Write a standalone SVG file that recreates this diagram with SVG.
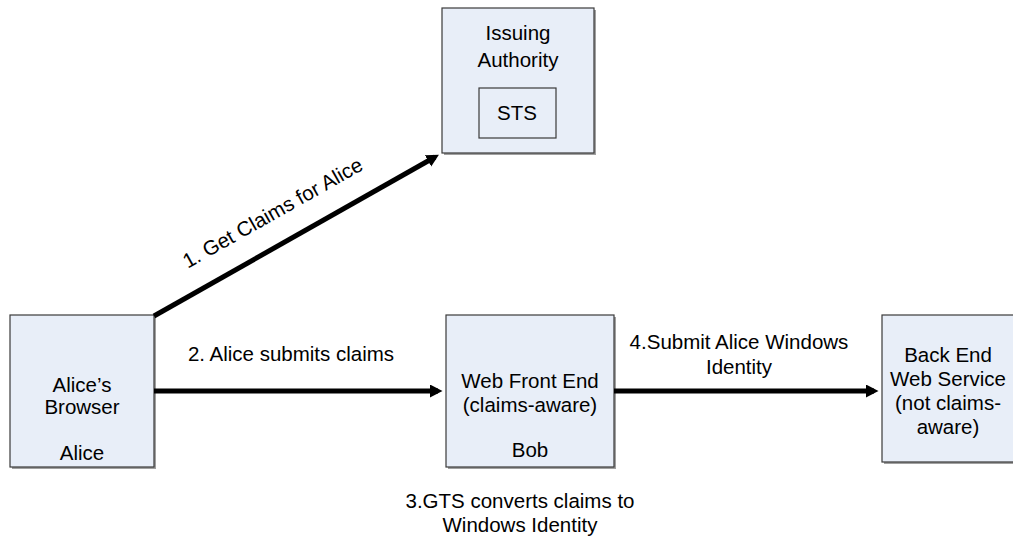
<svg xmlns="http://www.w3.org/2000/svg" width="1013" height="540" viewBox="0 0 1013 540">
<style>
.box{fill:#E8EEF8;stroke:#3a3a3a;stroke-width:1.2}
.shadow{fill:#a0a0a0}
text{font-family:"Liberation Sans",Arial,sans-serif;font-size:20.5px;fill:#000;text-anchor:middle}
.conn{stroke:#000;stroke-width:5;fill:none}
</style>
<defs>
<marker id="arr" markerWidth="3" markerHeight="3" refX="1.6" refY="1.3" orient="auto" markerUnits="strokeWidth">
<path d="M0,0 L2.5,1.3 L0,2.6 Z" fill="#000"/>
</marker>
</defs>
<rect width="1013" height="540" fill="#fff"/>
<g id="issuing">
<rect class="shadow" x="444" y="10" width="152" height="145"/>
<rect class="box" x="442" y="8" width="152" height="145"/>
<text x="518" y="40">Issuing</text>
<text x="518" y="67">Authority</text>
</g>
<g id="sts">
<rect class="box" x="479" y="88" width="77" height="50"/>
<text x="517" y="120">STS</text>
</g>
<g id="browser">
<rect class="shadow" x="12" y="317" width="144" height="152"/>
<rect class="box" x="10" y="315" width="144" height="152"/>
<text x="82" y="392">Alice’s</text>
<text x="82" y="414">Browser</text>
<text x="82" y="460">Alice</text>
</g>
<g id="webfront">
<rect class="shadow" x="448" y="317" width="168" height="152"/>
<rect class="box" x="446" y="315" width="168" height="152"/>
<text x="530" y="388">Web Front End</text>
<text x="530" y="412">(claims-aware)</text>
<text x="530" y="457">Bob</text>
</g>
<g id="backend">
<rect class="shadow" x="884" y="317" width="140" height="147"/>
<rect class="box" x="882" y="315" width="140" height="147"/>
<text x="948" y="362">Back End</text>
<text x="948" y="386">Web Service</text>
<text x="948" y="410">(not claims-</text>
<text x="948" y="434">aware)</text>
</g>
<g id="connectors">
<line class="conn" x1="154" y1="316" x2="435" y2="157" marker-end="url(#arr)"/>
<line class="conn" x1="154" y1="391" x2="438" y2="391" marker-end="url(#arr)"/>
<line class="conn" x1="614" y1="391" x2="874" y2="391" marker-end="url(#arr)"/>
</g>
<g id="labels">
<text transform="translate(276,219) rotate(-29.4)">1. Get Claims for Alice</text>
<text x="291" y="361">2. Alice submits claims</text>
<text x="739" y="349">4.Submit Alice Windows</text>
<text x="739" y="374">Identity</text>
<text x="520" y="508">3.GTS converts claims to</text>
<text x="520" y="532">Windows Identity</text>
</g>
</svg>
